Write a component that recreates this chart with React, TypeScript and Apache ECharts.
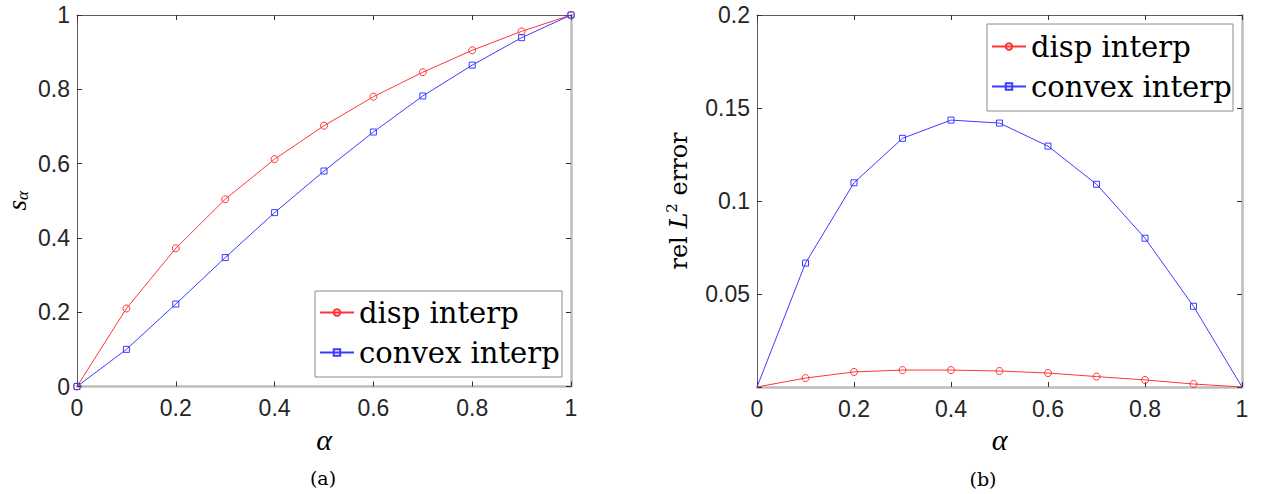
import React, { useEffect, useRef } from "react";
import * as echarts from "echarts";

const alphas = [0, 0.1, 0.2, 0.3, 0.4, 0.5, 0.6, 0.7, 0.8, 0.9, 1];
const sDisp = [0, 0.21, 0.372, 0.504, 0.612, 0.702, 0.78, 0.846, 0.905, 0.956, 1];
const sConvex = [0, 0.1, 0.222, 0.347, 0.468, 0.58, 0.685, 0.782, 0.865, 0.939, 1];
const errDisp = [0, 0.0048, 0.0081, 0.0091, 0.0091, 0.0086, 0.0075, 0.0056, 0.0038, 0.0016, 0];
const errConvex = [0, 0.0666, 0.1098, 0.1337, 0.1435, 0.1419, 0.1295, 0.109, 0.08, 0.0434, 0];
const seriesNames = ["disp interp", "convex interp"];
const captions = ["(a)", "(b)"];

const RED = "#ff3535";
const BLUE = "#3c3cff";
const DARK = "#5e5e5e";
const LIGHT = "#bdbdbd";
const LABEL = "#262626";
const SANS = "'Liberation Sans', Arial, Helvetica, sans-serif";
const SERIF = "'DejaVu Serif', serif";
const TSERIF = "'Liberation Serif', serif";

const fmt = (v: number) => String(Number(v.toFixed(3)));

function axisPair(kind: "x" | "y", gridIndex: number, min: number, max: number, interval: number, extra: any, hideZero: boolean) {
  const mainPos = kind === "x" ? "bottom" : "left";
  const otherPos = kind === "x" ? "top" : "right";
  const main = {
    gridIndex,
    type: "value",
    min,
    max,
    interval,
    position: mainPos,
    axisLine: { show: true, onZero: false, lineStyle: { color: kind === "x" ? LIGHT : DARK, width: kind === "x" ? 2.5 : 1 } },
    axisTick: { show: true, inside: true, length: 5, lineStyle: { color: "#333", width: 1 } },
    axisLabel: {
      show: true,
      fontFamily: SANS,
      fontSize: 23,
      color: LABEL,
      margin: kind === "x" ? 10 : 7,
      formatter: (v: number) => (hideZero && v === 0 ? "" : fmt(v)),
    },
    splitLine: { show: false },
    ...extra,
  };
  const other = {
    gridIndex,
    type: "value",
    min,
    max,
    interval,
    position: otherPos,
    axisLine: { show: true, onZero: false, lineStyle: { color: kind === "x" ? DARK : LIGHT, width: kind === "x" ? 1 : 2.5 } },
    axisTick: { show: true, inside: true, length: 5, lineStyle: { color: "#333", width: 1 } },
    axisLabel: { show: false },
    splitLine: { show: false },
  };
  return [main, other];
}

function mkSeries(name: string, values: number[], color: string, symbol: string, size: number, xi: number, yi: number, hideEnds: boolean) {
  return {
    name,
    type: "line",
    xAxisIndex: xi,
    yAxisIndex: yi,
    symbol,
    symbolSize: size,
    showSymbol: true,
    lineStyle: { color, width: 1 },
    itemStyle: { color: "rgba(255,255,255,0)", borderColor: color, borderWidth: 1 },
    emphasis: { disabled: true },
    data: alphas.map((a, i) => {
      const item: any = { value: [a, values[i]] };
      if (hideEnds && (i === 0 || i === alphas.length - 1)) item.symbol = "none";
      return item;
    }),
    z: 2,
  };
}

const alphaName = {
  name: "α",
  nameLocation: "middle",
  nameGap: 37,
  nameTextStyle: { fontFamily: TSERIF, fontStyle: "italic", fontSize: 30, color: "#000" },
};

export default function App() {
  const ref = useRef<HTMLDivElement>(null);
  useEffect(() => {
    if (!ref.current) return;
    const chart = echarts.init(ref.current, null, { renderer: "svg" });
    const [x0a, x0b] = axisPair("x", 0, 0, 1, 0.2, alphaName, false);
    const [x1a, x1b] = axisPair("x", 1, 0, 1, 0.2, alphaName, false);
    const [y0a, y0b] = axisPair(
      "y",
      0,
      0,
      1,
      0.2,
      {
        name: "{i|s}{sub|α}",
        nameLocation: "middle",
        nameGap: 46,
        nameTextStyle: {
          rich: {
            i: { fontFamily: TSERIF, fontStyle: "italic", fontSize: 27, color: "#000", lineHeight: 28 },
            sub: { fontFamily: TSERIF, fontStyle: "italic", fontSize: 17, color: "#000", verticalAlign: "bottom", lineHeight: 20 },
          },
        },
      },
      false
    );
    const [y1a, y1b] = axisPair(
      "y",
      1,
      0,
      0.2,
      0.05,
      {
        name: "rel {i|L}{sup|2} error",
        nameLocation: "middle",
        nameGap: 63,
        nameTextStyle: {
          fontFamily: SERIF,
          fontSize: 24,
          color: "#000",
          rich: {
            i: { fontFamily: SERIF, fontStyle: "italic", fontSize: 24, color: "#000" },
            sup: { fontFamily: SERIF, fontSize: 15, color: "#000", verticalAlign: "top", lineHeight: 30 },
          },
        },
      },
      true
    );

    const legendCommon = {
      orient: "vertical",
      padding: 0,
      itemGap: 11,
      itemWidth: 34,
      itemHeight: 8,
      selectedMode: false,
      textStyle: { fontFamily: SERIF, fontSize: 29, color: "#000", lineHeight: 29 },
      data: seriesNames,
    };

    const option: any = {
      animation: false,
      grid: [
        { left: 77, top: 15, width: 494, height: 371.5, containLabel: false, outerBoundsMode: "none" },
        { left: 757, top: 15, width: 485, height: 372, containLabel: false, outerBoundsMode: "none" },
      ],
      xAxis: [x0a, x0b, x1a, x1b],
      yAxis: [y0a, y0b, y1a, y1b],
      legend: [
        { ...legendCommon, left: 319, top: 298 },
        { ...legendCommon, left: 991, top: 32 },
      ],
      graphic: [
        { type: "rect", z: 3, shape: { x: 315, y: 291, width: 247, height: 86 }, style: { fill: "#fff", stroke: "#8a8a8a", lineWidth: 1 } },
        { type: "rect", z: 3, shape: { x: 987, y: 24, width: 246, height: 87 }, style: { fill: "#fff", stroke: "#8a8a8a", lineWidth: 1 } },
        { type: "text", x: 323, y: 478, style: { text: captions[0], fontFamily: SERIF, fontSize: 19, fill: "#000", align: "center", verticalAlign: "middle" } },
        { type: "text", x: 983, y: 479, style: { text: captions[1], fontFamily: SERIF, fontSize: 19, fill: "#000", align: "center", verticalAlign: "middle" } },
      ],
      series: [
        mkSeries(seriesNames[0], sDisp, RED, "circle", 7, 0, 0, false),
        mkSeries(seriesNames[1], sConvex, BLUE, "rect", 6, 0, 0, false),
        mkSeries(seriesNames[0], errDisp, RED, "circle", 7, 2, 2, true),
        mkSeries(seriesNames[1], errConvex, BLUE, "rect", 6, 2, 2, true),
      ],
    };
    chart.setOption(option);
    return () => chart.dispose();
  }, []);
  return <div ref={ref} style={{ position: "absolute", left: 0, top: 0, width: 1263, height: 494, background: "#fff" }} />;
}
